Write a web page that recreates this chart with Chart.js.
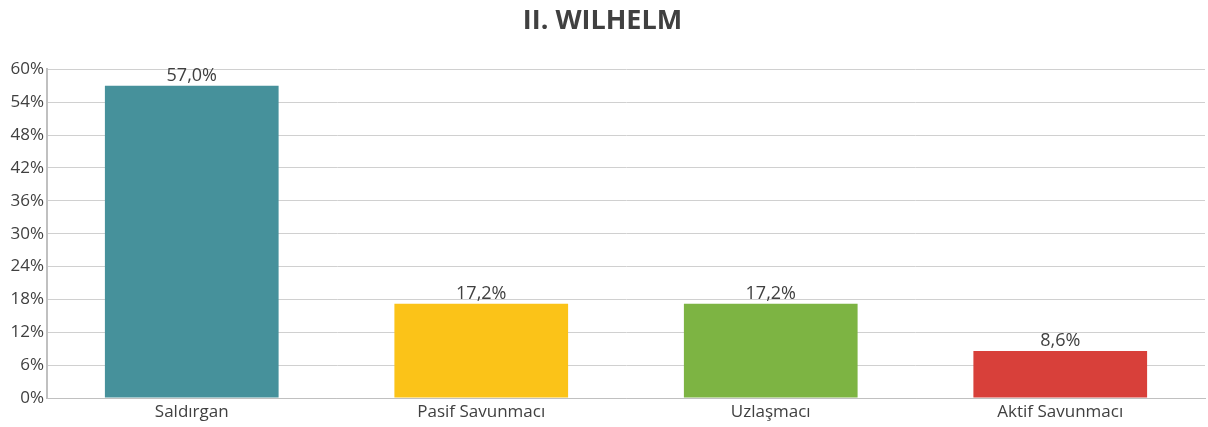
<!DOCTYPE html>
<html>
<head>
<meta charset="utf-8">
<script src="https://cdn.jsdelivr.net/npm/chart.js@4/dist/chart.umd.min.js"></script>
<style>
  html, body { margin: 0; padding: 0; background: #fff; }
  #wrap { width: 1208px; height: 427px; }
</style>
</head>
<body>
<div id="wrap"><canvas id="chart"></canvas></div>
<script>
// data
const categories = ["Saldırgan", "Pasif Savunmacı", "Uzlaşmacı", "Aktif Savunmacı"];
const values = [57.0, 17.2, 17.2, 8.6];
const barColors = ["#46919b", "#fbc318", "#7db443", "#d8403a"];
const chartTitle = "II. WILHELM";

const fmt = v => v.toFixed(1).replace(".", ",") + "%";

// draws the value over each bar
const valueLabels = {
    id: "valueLabels",
    afterDatasetsDraw(chart) {
        const ctx = chart.ctx;
        const meta = chart.getDatasetMeta(0);
        ctx.save();
        ctx.font = "18px 'Open Sans'";
        ctx.fillStyle = "#404040";
        ctx.textAlign = "center";
        ctx.textBaseline = "bottom";
        meta.data.forEach((bar, i) => {
            ctx.fillText(fmt(values[i]), bar.x, bar.y - 1);
        });
        ctx.restore();
    }
};

const ctx = document.getElementById("chart").getContext("2d");
new Chart(ctx, {
    type: "bar",
    data: {
        labels: categories,
        datasets: [{
            data: values,
            backgroundColor: barColors,
            categoryPercentage: 0.6,
            barPercentage: 1.0
        }]
    },
    options: {
        responsive: true,
        maintainAspectRatio: false,
        animation: false,
        layout: { padding: { left: 0, right: 3, top: 0, bottom: 0 } },
        plugins: {
            legend: { display: false },
            tooltip: { enabled: false },
            title: {
                display: true,
                text: chartTitle,
                color: "#404040",
                font: { family: "'Open Sans'", size: 27, weight: "bold" },
                padding: { top: 5, bottom: 32 }
            }
        },
        scales: {
            y: {
                min: 0,
                max: 60,
                afterFit: s => { s.width = 47; },
                ticks: {
                    stepSize: 6,
                    color: "#404040",
                    font: { family: "'Open Sans'", size: 17 },
                    padding: 3,
                    callback: v => v + "%"
                },
                grid: { color: "#d0d0d0", drawTicks: false },
                border: { color: "#c0c0c0", width: 2 }
            },
            x: {
                afterFit: s => { s.height = 29; },
                ticks: {
                    color: "#404040",
                    font: { family: "'Open Sans'", size: 17 },
                    padding: 4
                },
                grid: { display: false, drawTicks: false },
                border: { color: "#c0c0c0", width: 1 }
            }
        }
    },
    plugins: [valueLabels]
});
</script>
</body>
</html>
